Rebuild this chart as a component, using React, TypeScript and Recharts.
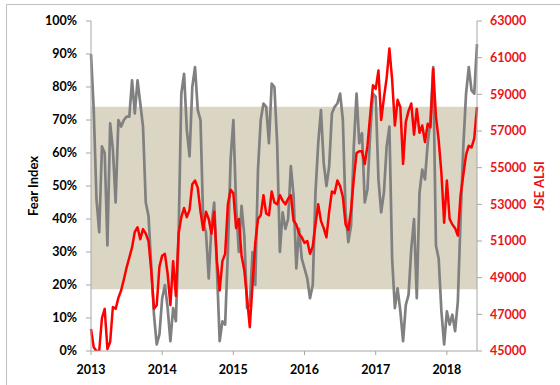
import { ComposedChart, Line, XAxis, YAxis, ReferenceArea } from "recharts";

// fortnightly observations, Jan 2013 to mid 2018
const yearTicks = [0, 26, 52, 78, 104, 130];
const yearLabels = ["2013", "2014", "2015", "2016", "2017", "2018"];
const fearTicks = [0, 10, 20, 30, 40, 50, 60, 70, 80, 90, 100];
const alsiTicks = [45000, 47000, 49000, 51000, 53000, 55000, 57000, 59000, 61000, 63000];
const normalRange = [18.7, 74];

const fearIndex = [
  90, 73, 46, 36, 62, 60, 32, 69, 61, 45,
  70, 68, 70, 71, 71, 82, 72, 82, 75, 68,
  45, 41, 26, 11, 2, 5, 16, 20, 13, 3,
  13, 9, 35, 78, 84, 67, 59, 80, 86, 73,
  70, 39, 36, 22, 38, 45, 25, 3, 9, 8,
  30, 58, 70, 44, 30, 44, 35, 13, 14, 30,
  20, 55, 70, 75, 74, 63, 81, 80, 63, 30,
  42, 37, 40, 56, 47, 25, 37, 28, 25, 22,
  16, 20, 48, 63, 73, 57, 50, 56, 72, 74,
  75, 78, 70, 42, 33, 38, 62, 78, 63, 66,
  45, 49, 66, 78, 77, 52, 42, 48, 62, 68,
  28, 13, 19, 12, 3, 14, 17, 31, 40, 16,
  48, 55, 52, 63, 70, 86, 32, 28, 12, 2,
  12, 8, 11, 6, 15, 40, 62, 78, 86, 79,
  78, 93,
];

const jseAlsi = [
  46200, 45200, 45000, 45000, 46800, 47300, 45100, 45500, 47400, 47300,
  47900, 48300, 48900, 49550, 50100, 50650, 51500, 51750, 51100, 51650,
  51400, 51000, 49400, 47300, 47500, 49600, 50200, 50300, 49200, 47500,
  49900, 48000, 51400, 52300, 52800, 52300, 52700, 54100, 54300, 53900,
  52600, 51600, 52600, 52200, 51400, 52600, 49900, 48300, 49900, 50300,
  53000, 53800, 53600, 51700, 52200, 50200, 49400, 47900, 46300, 48600,
  50900, 52200, 52400, 53500, 52500, 52400, 53700, 53100, 53000, 53500,
  53200, 53000, 53300, 53500, 52100, 51900, 51400, 51200, 50900, 51000,
  50300, 50700, 51900, 53000, 52100, 51700, 51200, 52600, 53700, 53600,
  54300, 54000, 53400, 51900, 51600, 52700, 54400, 55800, 55900, 55900,
  55200, 56200, 57900, 59500, 59300, 60300, 57600, 58800, 59900, 61500,
  59800, 57300, 58700, 58300, 55200, 57500, 58100, 58500, 56800, 58200,
  56900, 57300, 56400, 57400, 57200, 60400, 57800, 56500, 54700, 52000,
  54300, 52200, 51900, 51700, 51300, 53500, 54600, 55700, 56200, 56100,
  56600, 58300,
];

const data = fearIndex.map((fear, i) => ({ period: i, fear, alsi: jseAlsi[i] }));

const FONT = "Lato, 'Liberation Sans', Arial, sans-serif";
const AXIS_GREY = "#a6a6a6";
const RED = "#ff0000";
const LABEL_RED = "#e8141c";

const blackTick = { fill: "#000", fontSize: 12.5, fontWeight: 700, fontFamily: FONT };
const redTick = { ...blackTick, fill: LABEL_RED };

export default function App() {
  return (
    <div style={{ position: "relative", width: 560, height: 385, overflow: "hidden", background: "#fff" }}>
      <style>{`body{margin:0}`}</style>
      <ComposedChart width={560} height={385} data={data} margin={{ top: 21, right: 0, bottom: 0, left: 0 }}>
        <XAxis
          type="number"
          dataKey="period"
          domain={[0, data.length - 1]}
          ticks={yearTicks}
          interval={0}
          tickFormatter={(v: number) => yearLabels[yearTicks.indexOf(v)]}
          height={34}
          tickSize={4}
          tickMargin={10}
          tick={blackTick}
          axisLine={{ stroke: AXIS_GREY }}
          tickLine={{ stroke: AXIS_GREY }}
        />
        <YAxis
          yAxisId="fear"
          domain={[0, 100]}
          ticks={fearTicks}
          interval={0}
          tickFormatter={(v: number) => `${v}%`}
          width={91}
          tickSize={5}
          tickMargin={9}
          tick={blackTick}
          axisLine={{ stroke: AXIS_GREY }}
          tickLine={{ stroke: AXIS_GREY }}
        />
        <YAxis
          yAxisId="alsi"
          orientation="right"
          domain={[45000, 63000]}
          allowDataOverflow
          ticks={alsiTicks}
          interval={0}
          width={83}
          tickSize={5}
          tickMargin={8}
          tick={redTick}
          axisLine={{ stroke: AXIS_GREY }}
          tickLine={{ stroke: AXIS_GREY }}
        />
        <ReferenceArea
          yAxisId="fear"
          y1={normalRange[0]}
          y2={normalRange[1]}
          fill="#dbd6c4"
          fillOpacity={1}
          stroke="none"
        />
        <Line
          yAxisId="fear"
          type="linear"
          dataKey="fear"
          stroke="#808080"
          strokeWidth={2.7}
          strokeLinejoin="round"
          dot={false}
          activeDot={false}
          isAnimationActive={false}
        />
        <Line
          yAxisId="alsi"
          type="linear"
          dataKey="alsi"
          stroke={RED}
          strokeWidth={2.5}
          strokeLinejoin="round"
          dot={false}
          activeDot={false}
          isAnimationActive={false}
        />
      </ComposedChart>
      <svg width={560} height={385} style={{ position: "absolute", left: 0, top: 0, pointerEvents: "none" }}>
        <path d="M6.5 385 V4.5 H560" fill="none" stroke="#bfbfbf" strokeWidth={1} />
        <text
          x={33}
          y={186}
          transform="rotate(-90 33 186)"
          textAnchor="middle"
          dominantBaseline="central"
          fill="#000"
          fontFamily={FONT}
          fontWeight={700}
          fontSize={13}
        >
          Fear Index
        </text>
        <text
          x={539}
          y={186}
          transform="rotate(-90 539 186)"
          textAnchor="middle"
          dominantBaseline="central"
          fill={LABEL_RED}
          fontFamily={FONT}
          fontWeight={700}
          fontSize={13}
        >
          JSE ALSI
        </text>
      </svg>
    </div>
  );
}
